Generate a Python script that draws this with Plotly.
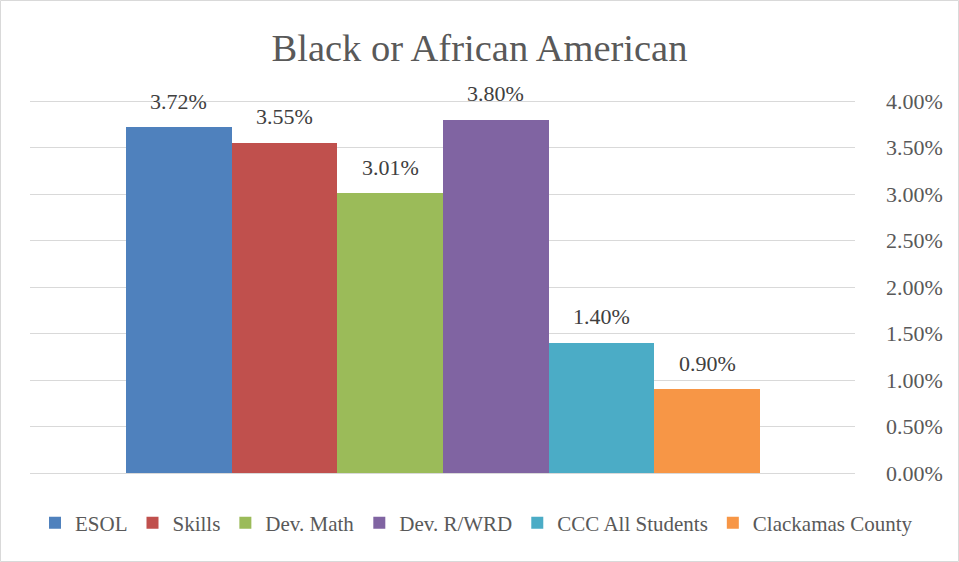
import plotly.graph_objects as go

series = ["ESOL", "Skills", "Dev. Math", "Dev. R/WRD", "CCC All Students", "Clackamas County"]
values = [3.72, 3.55, 3.01, 3.80, 1.40, 0.90]
colors = ["#4F81BD", "#C0504D", "#9BBB59", "#8064A2", "#4BACC6", "#F79646"]
title_text = "Black or African American"
tick_vals = [0, 0.5, 1.0, 1.5, 2.0, 2.5, 3.0, 3.5, 4.0]
tick_text = [f"{t:.2f}%" for t in tick_vals]

FONT = "Liberation Serif"
TXT = "#595959"
L, R, T, B = 30, 104, 98, 86
PW, PH = 959 - L - R, 562 - T - B
PAD = 3 / 93  # small padding so the 0% and 4% gridlines are drawn

fig = go.Figure()
for name, v, c in zip(series, values, colors):
    fig.add_trace(go.Bar(x=[name], y=[v], name=name, marker=dict(color=c, line=dict(width=0)),
                         width=1.0))
    fig.add_annotation(x=name, y=v, text=f"{v:.2f}%", showarrow=False, yanchor="middle",
                       yshift=26, font=dict(family=FONT, size=22, color="#404040"))

fig.update_layout(
    width=959, height=562,
    margin=dict(l=L, r=R, t=T, b=B),
    paper_bgcolor="white", plot_bgcolor="white",
    barmode="overlay", bargap=0,
    title=dict(text=title_text, x=0.5, xref="container", xanchor="center",
               y=1 - 48 / 562, yref="container", yanchor="middle",
               font=dict(family=FONT, size=38.5, color=TXT)),
    legend=dict(orientation="h", x=(918 - L) / PW, xanchor="right", xref="paper",
                y=-(523 - (562 - B)) / PH, yref="paper", yanchor="middle",
                font=dict(family=FONT, size=21, color=TXT), itemwidth=30,
                traceorder="normal", tracegroupgap=0),
    font=dict(family=FONT, color=TXT),
    xaxis=dict(showticklabels=False, showgrid=False, zeroline=False, showline=False,
               range=[-1.408, 6.399], type="category", categoryorder="array", categoryarray=series),
    yaxis=dict(side="right", range=[-PAD, 4 + PAD], tickvals=tick_vals, ticktext=tick_text,
               showgrid=True, gridcolor="#D9D9D9", gridwidth=1, zeroline=False, showline=False,
               ticks="", ticklabelstandoff=30,
               tickfont=dict(family=FONT, size=22, color=TXT)),
    shapes=[dict(type="rect", xref="paper", yref="paper",
                 x0=(0.5 - L) / PW, x1=(958.5 - L) / PW,
                 y0=-(B - 0.5) / PH, y1=1 + (T - 0.5) / PH,
                 line=dict(color="#D9D9D9", width=1), layer="below")],
)

fig.write_html("out.html")
